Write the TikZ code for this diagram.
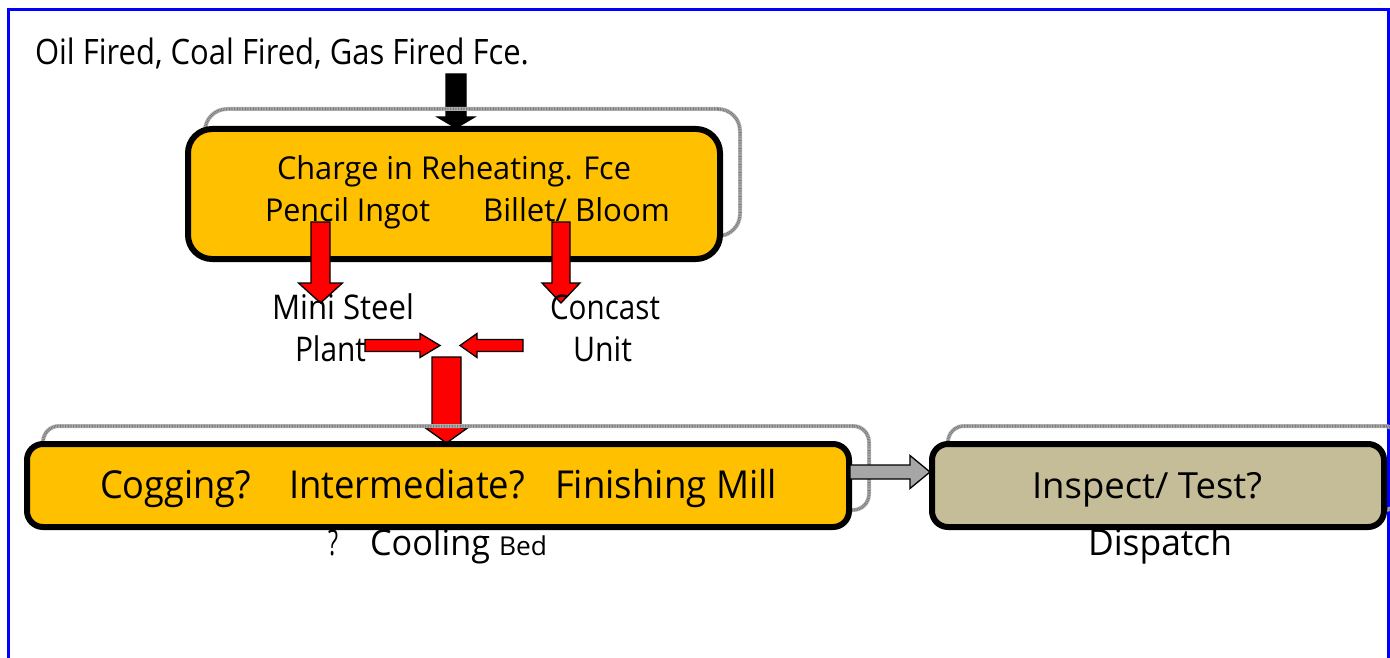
\documentclass[tikz,border=0pt]{standalone}
\usepackage{fontspec}
\setmainfont{Open Sans}
\usepackage{graphicx}
\usetikzlibrary{calc}
\definecolor{boxyellow}{HTML}{FFC000}
\definecolor{boxkhaki}{HTML}{C4BD97}
\definecolor{arrowred}{HTML}{FF0000}
\definecolor{arrowgray}{HTML}{A6A6A6}
\definecolor{frameblue}{HTML}{0000FF}
% size (pt), target width, text
\newcommand\fittext[3]{\resizebox{#2pt}{\height}{\fontsize{#1pt}{#1pt}\selectfont #3}}
% style, start, tip, shaft half width, head half width, head length
\newcommand\blockarrow[6]{%
  \coordinate (ba-h) at ($(#3)!#6!(#2)$);
  \draw[#1] ($(#2)!#4!90:(#3)$) -- ($(ba-h)!#4!90:(#3)$) -- ($(ba-h)!#5!90:(#3)$)
    -- (#3) -- ($(ba-h)!#5!-90:(#3)$) -- ($(ba-h)!#4!-90:(#3)$) -- ($(#2)!#4!-90:(#3)$) -- cycle;
}
\begin{document}
\begin{tikzpicture}[x=1pt,y=-1pt,
  txt/.style={inner sep=0pt, outer sep=0pt, anchor=base west},
  procbox/.style={draw=black, line width=6pt, rounded corners=#1, inner sep=0pt},
  shadowbox/.style={draw=gray!55, line width=4pt, rounded corners=#1, inner sep=0pt,
    postaction={draw=gray!95!black, line width=3pt, dash pattern=on 0.8pt off 0.8pt}},
  redarrow/.style={fill=arrowred, draw=black, line width=1.3pt, line join=miter},
  blackarrow/.style={fill=black, draw=black, line width=1.3pt, line join=miter},
  grayarrow/.style={fill=arrowgray, draw=black, line width=1.3pt, line join=miter}]
\clip (0,0) rectangle (1390,658);
% frame
\draw[frameblue, line width=3pt] (8,10) rectangle (1388,720);
% connector end points
\coordinate (fuelS) at (456,74);
\coordinate (fuelT) at (456,128);
\coordinate (joinS) at (446.5,357);
\coordinate (joinT) at (446.5,443);
% arrows lying under the outlines
\blockarrow{blackarrow}{fuelS}{fuelT}{10pt}{18.5pt}{11pt}
\blockarrow{redarrow}{joinS}{joinT}{14.5pt}{21pt}{15pt}
% offset outlines
\node[shadowbox=22pt, minimum width=535pt, minimum height=127pt] (chargeshadow) at (472.5,172.5) {};
\node[shadowbox=16pt, minimum width=826pt, minimum height=84pt] (millshadow) at (456,468) {};
\node[shadowbox=16pt, minimum width=452pt, minimum height=84pt] (inspectshadow) at (1174,468) {};
% boxes
\node[procbox=24pt, fill=boxyellow, minimum width=532pt, minimum height=130pt] (charge) at (454,194) {};
\node[procbox=16pt, fill=boxyellow, minimum width=822pt, minimum height=83pt] (mill) at (438,485.5) {};
\node[procbox=16pt, fill=boxkhaki, minimum width=452pt, minimum height=83pt] (inspect) at (1158,485.5) {};
% arrows on top
\coordinate (pencilS) at (320.5,222);
\coordinate (pencilT) at (320.5,303);
\coordinate (billetS) at (561,222);
\coordinate (billetT) at (561,303);
\coordinate (miniS) at (365,345.5);
\coordinate (miniT) at (440,345.5);
\coordinate (concS) at (523,345.5);
\coordinate (concT) at (460,345.5);
\coordinate (millE) at (850,472);
\coordinate (inspW) at (930,472);
\blockarrow{redarrow}{pencilS}{pencilT}{9.5pt}{22pt}{20pt}
\blockarrow{redarrow}{billetS}{billetT}{9pt}{19pt}{20pt}
\blockarrow{redarrow}{miniS}{miniT}{6pt}{12pt}{20pt}
\blockarrow{redarrow}{concS}{concT}{6pt}{12pt}{17pt}
\blockarrow{grayarrow}{millE}{inspW}{7pt}{16.5pt}{20pt}
% texts
\node[txt] (fuel) at (35,64.5) {\fittext{35}{494}{Oil Fired, Coal Fired, Gas Fired Fce.}};
\node[txt] (chargetitle) at (277,179) {\fittext{31.5}{354}{Charge in Reheating. Fce}};
\node[txt] (chargeitems) at (265,221) {\fittext{31.5}{165}{Pencil Ingot}\hspace{53pt}\fittext{31.5}{187}{Billet/ Bloom}};
\node[txt] (mini1) at (272,319) {\fittext{34}{142}{Mini Steel}};
\node[txt] (mini2) at (295,361) {\fittext{34}{71}{Plant}};
\node[txt] (conc1) at (550,319) {\fittext{34}{110}{Concast}};
\node[txt] (conc2) at (573,361) {\fittext{34}{59}{Unit}};
\node[txt] (milltext) at (100,498) {\fittext{38.5}{151}{Cogging?}\hspace{38pt}\fittext{38.5}{236}{Intermediate?}\hspace{30pt}\fittext{38.5}{222}{Finishing Mill}};
\node[txt] (cooling) at (328,555) {\fittext{35.5}{10}{?}\hspace{32pt}\fittext{35.5}{120}{Cooling}\hspace{9pt}\fittext{26}{48}{Bed}};
\node[txt] (inspecttext) at (1032,498) {\fittext{36}{230}{Inspect/ Test?}};
\node[txt] (dispatch) at (1088,555) {\fittext{36}{144}{Dispatch}};
\end{tikzpicture}
\end{document}
